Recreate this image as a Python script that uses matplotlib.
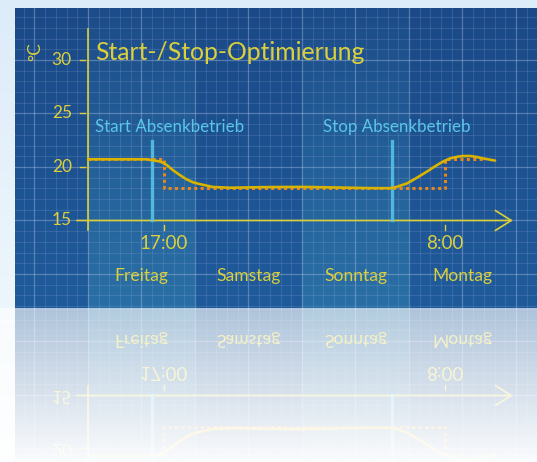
import numpy as np
import matplotlib
matplotlib.use("Agg")
import matplotlib.pyplot as plt
from matplotlib.ticker import MultipleLocator
from matplotlib.colors import to_rgb

# hours since Friday 0:00 -> room temperature (°C)
curve_h = [0, 13.2, 16.3, 17.65, 19.07, 20.6, 22.1, 23.55, 25.1, 28.0, 31.9, 40.0, 48.0,
           56.0, 64.0, 67.7, 68.9, 70.0, 71.6, 73.8, 76.0, 77.8, 79.6, 81.2, 82.8,
           84.1, 85.7, 87.3, 88.6, 91.3]
curve_t = [20.72, 20.72, 20.5, 20.19, 19.7, 19.25, 18.85, 18.57, 18.4, 18.13, 18.06, 18.12, 18.14,
           18.08, 18.02, 18.02, 18.1, 18.25, 18.47, 19.0, 19.56, 20.05, 20.5, 20.8, 20.96,
           21.02, 21.03, 20.93, 20.8, 20.6]

# setpoint (dotted)
set_h = [0, 17, 17, 80, 80, 88.6]
set_t = [20.7, 20.7, 18.0, 18.0, 20.7, 20.7]

marker_h = [14.4, 68.1]
marker_labels = ["Start Absenkbetrieb", "Stop Absenkbetrieb"]
marker_label_h = [1.6, 52.7]

y_ticks = [15, 20, 25, 30]
x_ticks = [17, 80]
x_tick_labels = ["17:00", "8:00"]
days = ["Freitag", "Samstag", "Sonntag", "Montag"]
day_centers = [12, 36, 60, 84]

title = "Start-/Stop-Optimierung"

W, H = 537, 462
PANEL_TOP, PANEL_BOT, PANEL_LEFT = 8, 308, 15
YELLOW = "#dccf3c"
CYAN = "#5ac6e8"
FONT = dict(family=["Lato", "DejaVu Sans"], fontweight="normal")

plt.rcParams["font.family"] = ["Lato", "DejaVu Sans"]

fig = plt.figure(figsize=(W / 100, H / 100), dpi=100)

# page background
bg = fig.add_axes([0, 0, 1, 1])
bg.axis("off")
g = np.linspace(0, 1, 256)[:, None, None]
top_c = np.array(to_rgb("#dcecf9"))
bot_c = np.array(to_rgb("#f7fbfe"))
bg.imshow(top_c * (1 - g) + bot_c * g, aspect="auto", extent=(0, 1, 0, 1))

# chart panel
ax = fig.add_axes([PANEL_LEFT / W, (H - PANEL_BOT) / H, (W - PANEL_LEFT) / W,
                   (PANEL_BOT - PANEL_TOP) / H])
xlim = (-16.37, 100.72)
ylim = (6.82, 34.86)
ax.set_xlim(*xlim)
ax.set_ylim(*ylim)

g = np.linspace(0, 1, 256)[:, None, None]
p_top = np.array(to_rgb("#1b4987"))
p_bot = np.array(to_rgb("#1f5b9b"))
ax.imshow(p_top * (1 - g) + p_bot * g, aspect="auto", extent=(*xlim, *ylim), zorder=0)

# lighter day bands (Freitag, Sonntag)
band = np.zeros((256, 1, 4))
band[:, 0, :3] = to_rgb("#3a8fb5")
band[:, 0, 3] = np.linspace(0.05, 0.4, 256)
for start in (0, 48):
    ax.imshow(band, aspect="auto", extent=(start, start + 24, *ylim), zorder=0.2)

ax.xaxis.set_major_locator(MultipleLocator(12))
ax.xaxis.set_minor_locator(MultipleLocator(2.4))
ax.yaxis.set_major_locator(MultipleLocator(5))
ax.yaxis.set_minor_locator(MultipleLocator(1))
ax.grid(which="major", color="#b8c8ea", alpha=0.38, lw=0.9)
ax.grid(which="minor", color="#a8bce6", alpha=0.17, lw=0.8)
ax.set_axisbelow(True)
ax.tick_params(which="both", length=0, labelbottom=False, labelleft=False)
for s in ax.spines.values():
    s.set_visible(False)

# axes lines
ax.plot([0, 0], [14.07, 32.9], color=YELLOW, lw=1.2, zorder=3)
ax.annotate("", xy=(95.3, 15), xytext=(-2.5, 15),
            arrowprops=dict(arrowstyle="->,head_length=1.15,head_width=0.72",
                            color=YELLOW, lw=1.2, mutation_scale=10,
                            shrinkA=0, shrinkB=0), zorder=3)
for t in y_ticks:
    if t != 15:
        ax.plot([-1.8, -0.7], [t, t], color=YELLOW, lw=1.0, zorder=3)
    ax.text(-3.6, t, str(t), color=YELLOW, fontsize=12.5, ha="right", va="center", **FONT)
for h, lab in zip(x_ticks, x_tick_labels):
    ax.plot([h, h], [14.6, 14.15], color=YELLOW, lw=1.0, zorder=3)
    ax.text(h, 12.85, lab, color=YELLOW, fontsize=13.5, ha="center", va="center", **FONT)
for h, lab in zip(day_centers, days):
    ax.text(h, 9.85, lab, color=YELLOW, fontsize=12.6, ha="center", va="center", **FONT)

ax.text(-11.8, 30.75, "°C", color=YELLOW, fontsize=12.5, rotation=90,
        ha="center", va="center", **FONT)
ax.text(1.6, 30, title, color=YELLOW, fontsize=17.8, ha="left", va="baseline", **FONT)

# switching markers
for h, lab, lh in zip(marker_h, marker_labels, marker_label_h):
    ax.plot([h, h], [15, 22.4], color=CYAN, lw=2.4, alpha=0.85, zorder=3)
    ax.text(lh, 23.74, lab, color=CYAN, fontsize=12.2, ha="left", va="center", **FONT)

ax.plot(set_h, set_t, color="#e8861c", lw=2.2, linestyle=(0, (1, 1.1)),
        dash_capstyle="butt", zorder=4)
ax.plot(curve_h, curve_t, color="#d8b300", lw=1.9, zorder=5, solid_capstyle="round")

# mirrored reflection below the panel
fig.canvas.draw()
img = np.asarray(fig.canvas.buffer_rgba())[:, :, :3].astype(float) / 255
n = H - PANEL_BOT
refl = img[PANEL_BOT - n:PANEL_BOT][::-1]
a = np.linspace(0.64, 0.98, n)[:, None, None]
refl = refl * (1 - a) + a
rax = fig.add_axes([0, 0, 1, n / H])
rax.imshow(refl, aspect="auto", interpolation="nearest")
rax.axis("off")

fig.savefig("out.png", dpi=100)
